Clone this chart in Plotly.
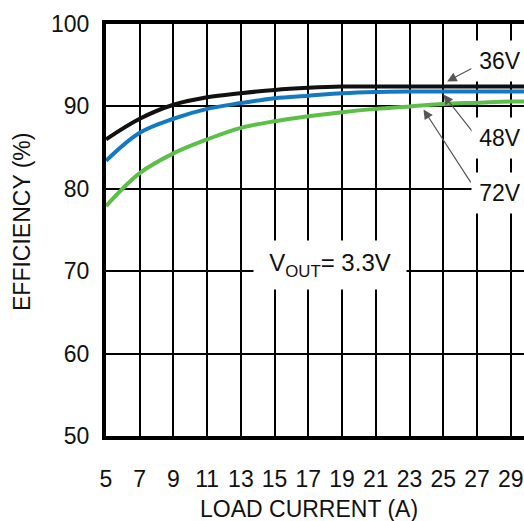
import plotly.graph_objects as go

# Data
load_current = [5, 7, 9, 11, 13, 15, 17, 19, 21, 23, 25, 27, 29, 30]
eff_36v = [86.0, 88.5, 90.2, 91.1, 91.6, 92.0, 92.25, 92.4, 92.4, 92.4, 92.4, 92.4, 92.4, 92.4]
eff_48v = [83.4, 86.8, 88.5, 89.7, 90.4, 91.0, 91.3, 91.6, 91.75, 91.8, 91.8, 91.8, 91.8, 91.8]
eff_72v = [77.9, 81.9, 84.3, 86.0, 87.4, 88.2, 88.8, 89.3, 89.7, 90.0, 90.3, 90.45, 90.6, 90.6]

x_ticks = list(range(5, 30, 2))
y_ticks = [50, 60, 70, 80, 90, 100]

series = [
    ("36V", eff_36v, "#111111"),
    ("48V", eff_48v, "#1279c2"),
    ("72V", eff_72v, "#5cbf48"),
]

FONT = "Liberation Sans, Arial, sans-serif"

fig = go.Figure()
for name, vals, col in series:
    fig.add_trace(go.Scatter(
        x=load_current, y=vals, mode="lines", name=name,
        line=dict(color=col, width=4, shape="spline", smoothing=1.0),
        showlegend=False, hoverinfo="skip",
    ))

fig.update_layout(
    width=524, height=521,
    margin=dict(l=106, r=0, t=24, b=85),
    paper_bgcolor="white", plot_bgcolor="white",
    font=dict(family=FONT, size=23, color="#111"),
    showlegend=False,
)
fig.update_xaxes(
    range=[5, 29.79], tickmode="array", tickvals=x_ticks,
    ticktext=[str(v) for v in x_ticks],
    showgrid=True, gridcolor="black", gridwidth=2,
    showline=True, linecolor="black", linewidth=4, mirror=True,
    zeroline=False, ticks="", ticklabelstandoff=19,
    tickfont=dict(size=23, family=FONT, color="#111"),
)
fig.update_yaxes(
    range=[50, 100], tickmode="array", tickvals=y_ticks,
    showgrid=True, gridcolor="black", gridwidth=2,
    showline=True, linecolor="black", linewidth=4, mirror=False,
    zeroline=False, ticks="", ticklabelstandoff=8,
    tickfont=dict(size=23, family=FONT, color="#111"),
)

# axis titles
fig.add_annotation(xref="paper", yref="paper", x=(309 - 106) / 418, y=(436 - 509) / 412,
                   text="LOAD CURRENT (A)", showarrow=False,
                   font=dict(size=23, family=FONT, color="#111"),
                   xanchor="center", yanchor="middle")
fig.add_annotation(xref="paper", yref="paper", x=(22 - 106) / 418, y=(436 - 222) / 412,
                   text="EFFICIENCY (%)", showarrow=False, textangle=-90,
                   font=dict(size=23, family=FONT, color="#111"),
                   xanchor="center", yanchor="middle")

# arrows (tail -> tip)
arrows = [
    (26.77, 94.7, 25.23, 93.03),
    (26.79, 86.8, 25.01, 91.43),
    (26.69, 80.6, 23.83, 89.63),
]
for tx, ty, hx, hy in arrows:
    fig.add_annotation(x=hx, y=hy, ax=tx, ay=ty, xref="x", yref="y",
                       axref="x", ayref="y", text="", showarrow=True,
                       arrowhead=2, arrowsize=1.6, arrowwidth=1.2,
                       arrowcolor="#555555")

# curve labels
labels = [("36V", 28.37, 95.55), ("48V", 28.37, 86.2), ("72V", 28.37, 79.45)]
for txt, lx, ly in labels:
    fig.add_annotation(x=lx, y=ly, xref="x", yref="y", text=txt, showarrow=False,
                       bgcolor="white", width=54, height=38,
                       font=dict(size=23, family=FONT, color="#111"))

fig.add_annotation(x=18.31, y=70.8, xref="x", yref="y",
                   text="V<sub style='font-size:21px'>OUT</sub>= 3.3V",
                   showarrow=False, bgcolor="white", width=150, height=46,
                   font=dict(size=24, family=FONT, color="#111"))

fig.write_html("out.html", config={"displayModeBar": False},
               post_script="document.body.style.margin='0';document.body.style.overflow='hidden';")
